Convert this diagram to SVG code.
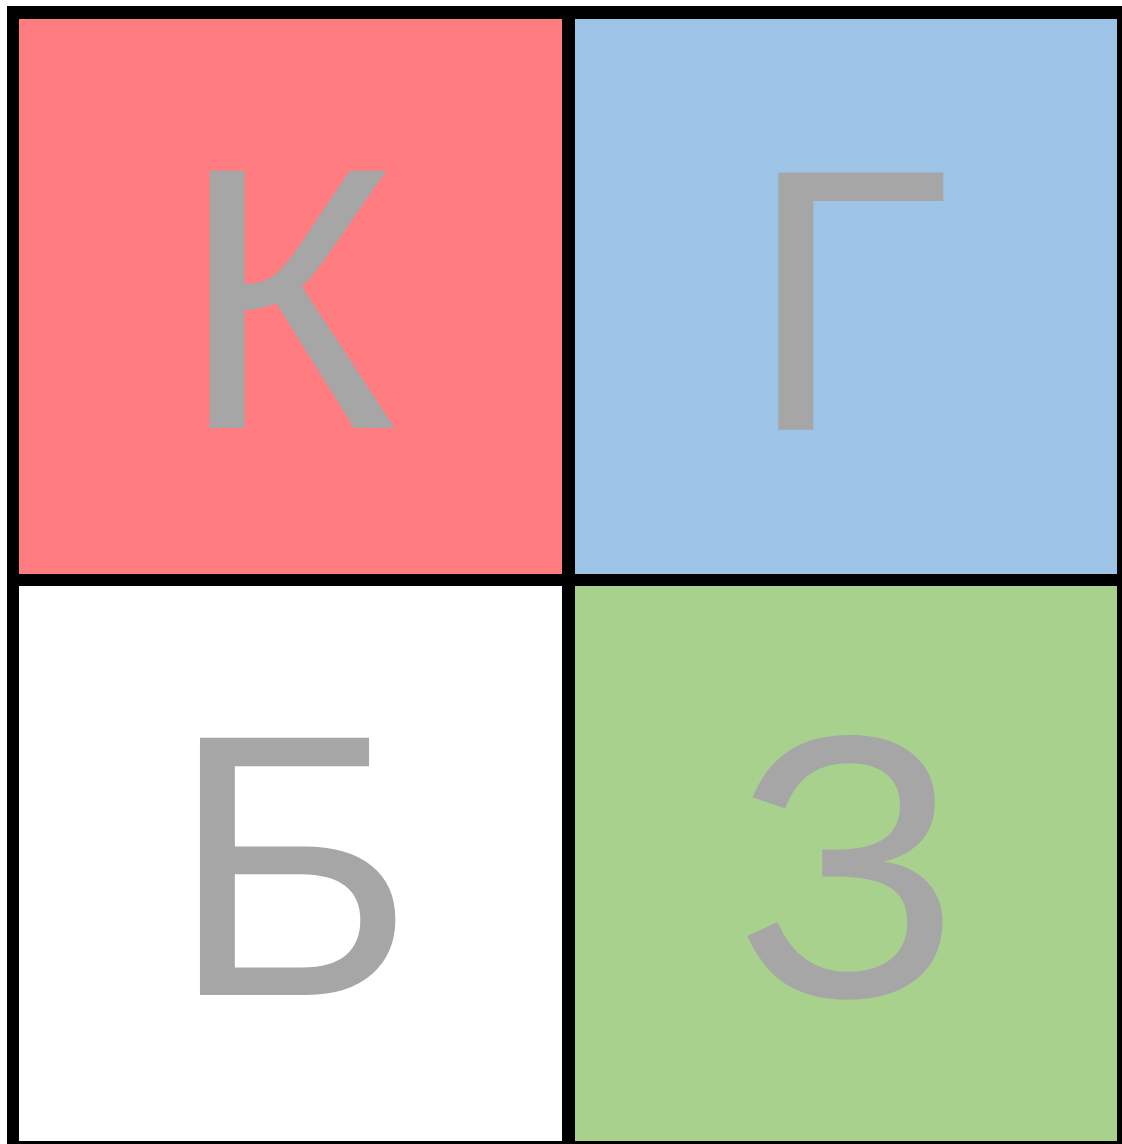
<svg xmlns="http://www.w3.org/2000/svg" width="1122" height="1144" viewBox="0 0 1122 1144">
<style>
.lbl{font-family:"Liberation Sans",Arial,sans-serif;font-size:374px;fill:#a6a6a6;text-anchor:middle}
</style>
<rect x="0" y="0" width="1122" height="1144" fill="#ffffff"/>
<rect id="frame" x="7" y="6" width="1122" height="1144" fill="#000000"/>
<g id="cell-k">
<rect x="19" y="19" width="543" height="555" fill="#ff7c80"/>
<text class="lbl" x="288" y="428">К</text>
</g>
<g id="cell-g">
<rect x="575" y="19" width="542" height="555" fill="#9dc3e6"/>
<text class="lbl" x="849" y="430">Г</text>
</g>
<g id="cell-b">
<rect x="19" y="586" width="543" height="555" fill="#ffffff"/>
<text class="lbl" x="292" y="995">Б</text>
</g>
<g id="cell-z">
<rect x="575" y="586" width="542" height="555" fill="#a9d18e"/>
<text class="lbl" x="848" y="996">З</text>
</g>
<g id="connectors"></g>
</svg>
